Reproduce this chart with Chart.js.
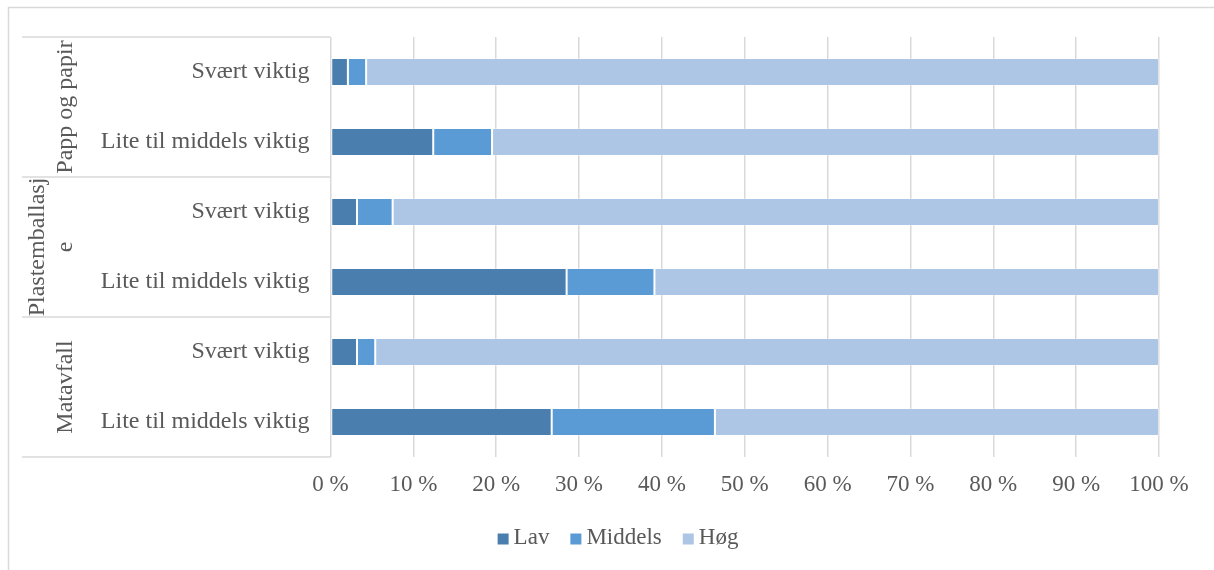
<!DOCTYPE html>
<html>
<head>
<meta charset="utf-8">
<script src="https://cdn.jsdelivr.net/npm/chart.js@4/dist/chart.umd.min.js"></script>
<style>
  html, body { margin: 0; padding: 0; background: #fff; }
  #wrap { width: 1214px; height: 570px; }
</style>
</head>
<body>
<div id="wrap"><canvas id="chart"></canvas></div>
<script>
// Rows top to bottom, two per group
const categories = [
    "Svært viktig", "Lite til middels viktig",
    "Svært viktig", "Lite til middels viktig",
    "Svært viktig", "Lite til middels viktig"
];
// Group names, already split the way they wrap in the narrow column
const groups = [["Papp og papir"], ["Plastemballasj", "e"], ["Matavfall"]];
const groupSize = 2;

const seriesNames = ["Lav", "Middels", "Høg"];
const lav     = [2.1, 12.4, 3.2, 28.5, 3.2, 26.7];
const middels = [2.2, 7.1, 4.3, 10.6, 2.2, 19.7];
const hog     = [95.7, 80.5, 92.5, 60.9, 94.6, 53.6];

const colors = ["#4a7eaf", "#5b9bd5", "#adc6e6"];
const textColor = "#595959";
const lineColor = "#d9d9d9";
const serif = '"Liberation Serif", "Times New Roman", serif';

// ----------------- FRAME, ROW LINES & GROUP LABELS -----------------
const tablePlugin = {
    id: "tableLines",
    beforeDraw(chart){
        const ctx = chart.ctx;
        const y = chart.scales.y;
        const area = chart.chartArea;
        ctx.save();
        ctx.strokeStyle = lineColor;
        ctx.lineWidth = 1.5;

        // outer frame (top + left)
        ctx.beginPath();
        ctx.moveTo(8.5, chart.height);
        ctx.lineTo(8.5, 7.5);
        ctx.lineTo(chart.width, 7.5);
        ctx.stroke();

        // group separators in the label column
        for(let g = 0; g <= groups.length; g++){
            const py = y.getPixelForValue(g * groupSize - 0.5);
            ctx.beginPath();
            ctx.moveTo(22, py);
            ctx.lineTo(area.left, py);
            ctx.stroke();
        }

        // rotated group names
        ctx.fillStyle = textColor;
        ctx.font = "24px " + serif;
        ctx.textAlign = "center";
        ctx.textBaseline = "alphabetic";
        groups.forEach((lines, g) => {
            const top = y.getPixelForValue(g * groupSize - 0.5);
            const bottom = y.getPixelForValue((g + 1) * groupSize - 0.5);
            const cy = (top + bottom) / 2;
            lines.forEach((txt, i) => {
                const bx = 72 - (lines.length - 1 - i) * 28;
                ctx.save();
                ctx.translate(bx, cy);
                ctx.rotate(-Math.PI / 2);
                ctx.fillText(txt, 0, 0);
                ctx.restore();
            });
        });
        ctx.restore();
    }
};

// ----------------- LEGEND UNDER THE AXIS -----------------
const legendPlugin = {
    id: "bottomLegend",
    afterDraw(chart){
        const ctx = chart.ctx;
        ctx.save();
        ctx.font = "23px " + serif;
        ctx.textBaseline = "middle";
        ctx.textAlign = "left";
        const box = 11, gap = 5, spacing = 21, cy = 538;
        const items = chart.data.datasets.map(ds => ({
            text: ds.label,
            color: ds.backgroundColor,
            w: box + gap + ctx.measureText(ds.label).width
        }));
        const total = items.reduce((s, it) => s + it.w, 0) + spacing * (items.length - 1);
        let x = (22 + chart.width) / 2 - total / 2;
        items.forEach(it => {
            ctx.fillStyle = it.color;
            ctx.fillRect(x, cy - box / 2 + 1, box, box);
            ctx.fillStyle = textColor;
            ctx.fillText(it.text, x + box + gap, cy);
            x += it.w + spacing;
        });
        ctx.restore();
    }
};

// ----------------- STACKED 100 % BARS -----------------
const ctx = document.getElementById("chart").getContext("2d");

const chart = new Chart(ctx, {
    type: "bar",
    data: {
        labels: categories,
        datasets: [lav, middels, hog].map((vals, i) => ({
            label: seriesNames[i],
            data: vals,
            backgroundColor: colors[i],
            borderColor: "rgba(255,255,255,0.25)",
            borderWidth: 1,
            borderSkipped: false,
            categoryPercentage: 1,
            barPercentage: 0.4
        }))
    },
    options: {
        indexAxis: "y",
        responsive: true,
        maintainAspectRatio: false,
        animation: false,
        layout: { padding: { left: 22, top: 37, right: 55, bottom: 53 } },
        plugins: {
            legend: { display: false },
            tooltip: { enabled: false }
        },
        scales: {
            x: {
                stacked: true,
                min: 0,
                max: 100,
                ticks: {
                    stepSize: 10,
                    padding: 14,
                    color: textColor,
                    font: { family: serif, size: 23 },
                    callback: v => v + " %"
                },
                grid: { color: lineColor, lineWidth: 1.5, drawTicks: false },
                border: { display: false },
                afterFit(scale){ scale.height = 60; }
            },
            y: {
                stacked: true,
                ticks: {
                    padding: 21,
                    color: textColor,
                    font: { family: serif, size: 24 }
                },
                grid: { display: false, drawTicks: false },
                border: { display: false },
                afterFit(scale){ scale.width = 308.5; }
            }
        }
    },
    plugins: [tablePlugin, legendPlugin]
});
</script>
</body>
</html>
